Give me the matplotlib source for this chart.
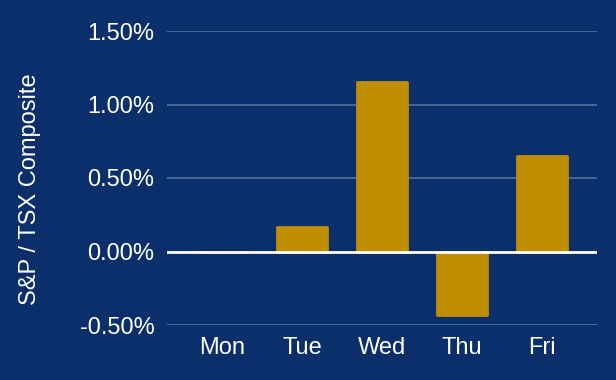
import matplotlib
matplotlib.use('Agg')
import matplotlib.pyplot as plt
from matplotlib.ticker import FuncFormatter

# daily returns, percent
days = ['Mon', 'Tue', 'Wed', 'Thu', 'Fri']
returns = [0.0, 0.17, 1.15, -0.43, 0.65]
y_ticks = [-0.5, 0.0, 0.5, 1.0, 1.5]

bg = '#0a2f6a'
bar_color = '#bf8f00'
grid_color = '#4d6d9e'

plt.rcParams['font.family'] = ['Liberation Sans', 'DejaVu Sans']

fig = plt.figure(figsize=(6.16, 3.8), dpi=100, facecolor=bg)
ax = fig.add_axes([167 / 616, 1 - 325 / 380, 430 / 616, 294 / 380])
ax.set_facecolor(bg)

ax.bar(range(len(days)), returns, width=0.625, color=bar_color,
       edgecolor=bar_color, linewidth=2, joinstyle='round', zorder=3)

ax.set_ylim(-0.5, 1.5)
ax.set_xlim(-0.6875, 4.6875)
ax.set_yticks(y_ticks)
ax.yaxis.set_major_formatter(FuncFormatter(lambda v, _: f'{v:.2f}%'))
ax.set_xticks(range(len(days)))
ax.set_xticklabels(days)

ax.grid(axis='y', color=grid_color, linewidth=1.3, zorder=0)
# zero line sits on top so the flat Monday bar disappears
ax.axhline(0, color='white', linewidth=2, zorder=4)
for s in ax.spines.values():
    s.set_visible(False)
ax.tick_params(axis='both', length=0, colors='white', labelsize=17)
ax.tick_params(axis='y', pad=9)
ax.tick_params(axis='x', pad=9)

fig.text(30 / 616, 1 - 189.5 / 380, 'S&P / TSX Composite', rotation=90,
         color='white', fontsize=17, ha='center', va='center')

plt.savefig('out.png', dpi=100, facecolor=bg)
